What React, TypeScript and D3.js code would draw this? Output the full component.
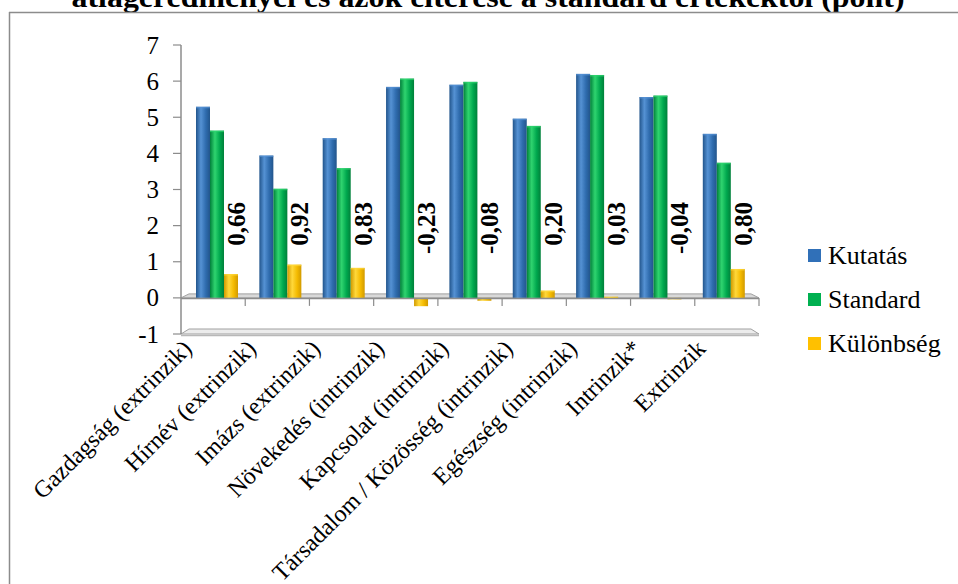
import React from "react";
import * as d3 from "d3";

const titleText = "átlageredményei és azok eltérése a standard értékektől (pont)";
const categories = [
  "Gazdagság (extrinzik)",
  "Hírnév (extrinzik)",
  "Imázs (extrinzik)",
  "Növekedés (intrinzik)",
  "Kapcsolat (intrinzik)",
  "Társadalom / Közösség (intrinzik)",
  "Egészség (intrinzik)",
  "Intrinzik*",
  "Extrinzik",
];
const seriesNames = ["Kutatás", "Standard", "Különbség"];
const kutatas = [5.29, 3.94, 4.42, 5.84, 5.9, 4.96, 6.2, 5.56, 4.54];
const standard = [4.63, 3.02, 3.59, 6.07, 5.98, 4.76, 6.17, 5.6, 3.74];
const kulonbseg = [0.66, 0.92, 0.83, -0.23, -0.08, 0.2, 0.03, -0.04, 0.8];
const diffLabels = ["0,66", "0,92", "0,83", "-0,23", "-0,08", "0,20", "0,03", "-0,04", "0,80"];
const yTicks = [-1, 0, 1, 2, 3, 4, 5, 6, 7];

const colors = [
  { dark: "#22558c", light: "#5592d4", mid: "#2f6cae", key: "#3070b8" },
  { dark: "#00803a", light: "#2fd46f", mid: "#00a84e", key: "#00b050" },
  { dark: "#d19a00", light: "#ffd83a", mid: "#f4ba00", key: "#ffc000" },
];

const FONT = "Liberation Serif";

export default function App() {
  const W = 958;
  const H = 584;
  const y = d3.scaleLinear().domain([-1, 7]).range([334, 45]);
  const axisX = d3.scaleLinear().domain([0, categories.length]).range([181, 759]);
  const band = d3
    .scaleBand<number>()
    .domain(d3.range(categories.length))
    .range([196, 196 + 63.35 * categories.length])
    .paddingInner(0)
    .paddingOuter(0);
  const barW = 14;
  const series = [kutatas, standard, kulonbseg];
  const y0 = y(0);
  const yMin = y(-1);
  const gray = "#8c8c8c";
  const ts = { fontFamily: FONT };

  return (
    <svg
      width={W}
      height={H}
      style={{ position: "absolute", left: 0, top: 0, background: "#fff", fontFamily: FONT }}
    >
      <defs>
        {colors.map((c, i) => (
          <linearGradient key={i} id={`g${i}`} x1="0" x2="1" y1="0" y2="0">
            <stop offset="0%" stopColor={c.dark} />
            <stop offset="35%" stopColor={c.light} />
            <stop offset="70%" stopColor={c.mid} />
            <stop offset="100%" stopColor={c.dark} />
          </linearGradient>
        ))}
      </defs>
      <rect x={0} y={0} width={W} height={H} fill="#fff" />
      {/* title */}
      <text
        x={488}
        y={7}
        textAnchor="middle"
        fontWeight="bold"
        fontSize={29}
        textLength={833}
        lengthAdjust="spacingAndGlyphs"
        fill="#000"
        style={ts}
      >
        {titleText}
      </text>
      {/* frame */}
      <line x1={9} x2={W} y1={12.5} y2={12.5} stroke={gray} strokeWidth={1.5} />
      <line x1={9.5} x2={9.5} y1={12} y2={H} stroke={gray} strokeWidth={1.5} />

      {/* floor plate at -1 */}
      <polygon
        points={`${axisX(0)},${yMin} ${axisX(0) + 8},${yMin - 5} ${axisX(9) - 8},${yMin - 5} ${axisX(9)},${yMin}`}
        fill="#ececec"
        stroke="#a0a0a0"
        strokeWidth={1}
      />
      <line x1={axisX(0)} x2={axisX(9)} y1={yMin + 1.5} y2={yMin + 1.5} stroke="#b8b8b8" strokeWidth={1.5} />
      {/* zero plane */}
      <polygon
        points={`${axisX(0)},${y0} ${axisX(0) + 8},${y0 - 4} ${axisX(9) - 8},${y0 - 4} ${axisX(9)},${y0}`}
        fill="#d9d9d9"
        stroke="#a0a0a0"
        strokeWidth={1}
      />

      {/* bars */}
      {categories.map((_, i) =>
        series.map((s, j) => {
          const v = s[i];
          const x = (band(i) as number) + j * barW;
          const top = Math.min(y(v), y0);
          const h = Math.abs(y(v) - y0);
          return (
            <g key={`${i}-${j}`}>
              <rect x={x} y={top} width={barW} height={Math.max(h, 1.5)} fill={`url(#g${j})`} />
              {v > 0 && (
                <rect x={x} y={top} width={barW} height={1.5} fill={colors[j].light} opacity={0.7} />
              )}
            </g>
          );
        })
      )}

      {/* x axis line and ticks */}
      <line x1={axisX(0)} x2={axisX(9)} y1={y0 + 0.5} y2={y0 + 0.5} stroke={gray} strokeWidth={1.5} />
      {d3.range(1, categories.length + 1).map((k) => (
        <line key={k} x1={axisX(k)} x2={axisX(k)} y1={y0} y2={y0 + 8} stroke={gray} strokeWidth={1.2} />
      ))}

      {/* y axis */}
      <line x1={axisX(0)} x2={axisX(0)} y1={y(7)} y2={yMin} stroke={gray} strokeWidth={1.5} />
      {yTicks.map((t) => (
        <g key={t}>
          <line x1={axisX(0) - 8} x2={axisX(0)} y1={y(t)} y2={y(t)} stroke={gray} strokeWidth={1.2} />
          <text x={159} y={y(t) + 8.5} textAnchor="end" fontSize={25} fill="#000" style={ts}>
            {t}
          </text>
        </g>
      ))}

      {/* data labels for difference */}
      {categories.map((_, i) => {
        const x = (band(i) as number) + 2 * barW + 21;
        return (
          <text
            key={i}
            transform={`translate(${x},${202}) rotate(-90)`}
            textAnchor="end"
            fontWeight="bold"
            fontSize={25}
            fill="#000"
            style={ts}
          >
            {diffLabels[i]}
          </text>
        );
      })}

      {/* category labels */}
      {categories.map((c, i) => {
        const cx = (axisX(i) + axisX(i + 1)) / 2 - 20;
        return (
          <text
            key={c}
            transform={`translate(${cx},${350}) rotate(-45)`}
            textAnchor="end"
            fontSize={24}
            fill="#000"
            style={ts}
          >
            {c}
          </text>
        );
      })}

      {/* legend */}
      {seriesNames.map((n, j) => {
        const by = 264 + j * 44;
        return (
          <g key={n}>
            <rect x={808} y={by - 15} width={13} height={13} fill={colors[j].key} />
            <text x={828} y={by} fontSize={26} fill="#000" style={ts}>
              {n}
            </text>
          </g>
        );
      })}
    </svg>
  );
}
